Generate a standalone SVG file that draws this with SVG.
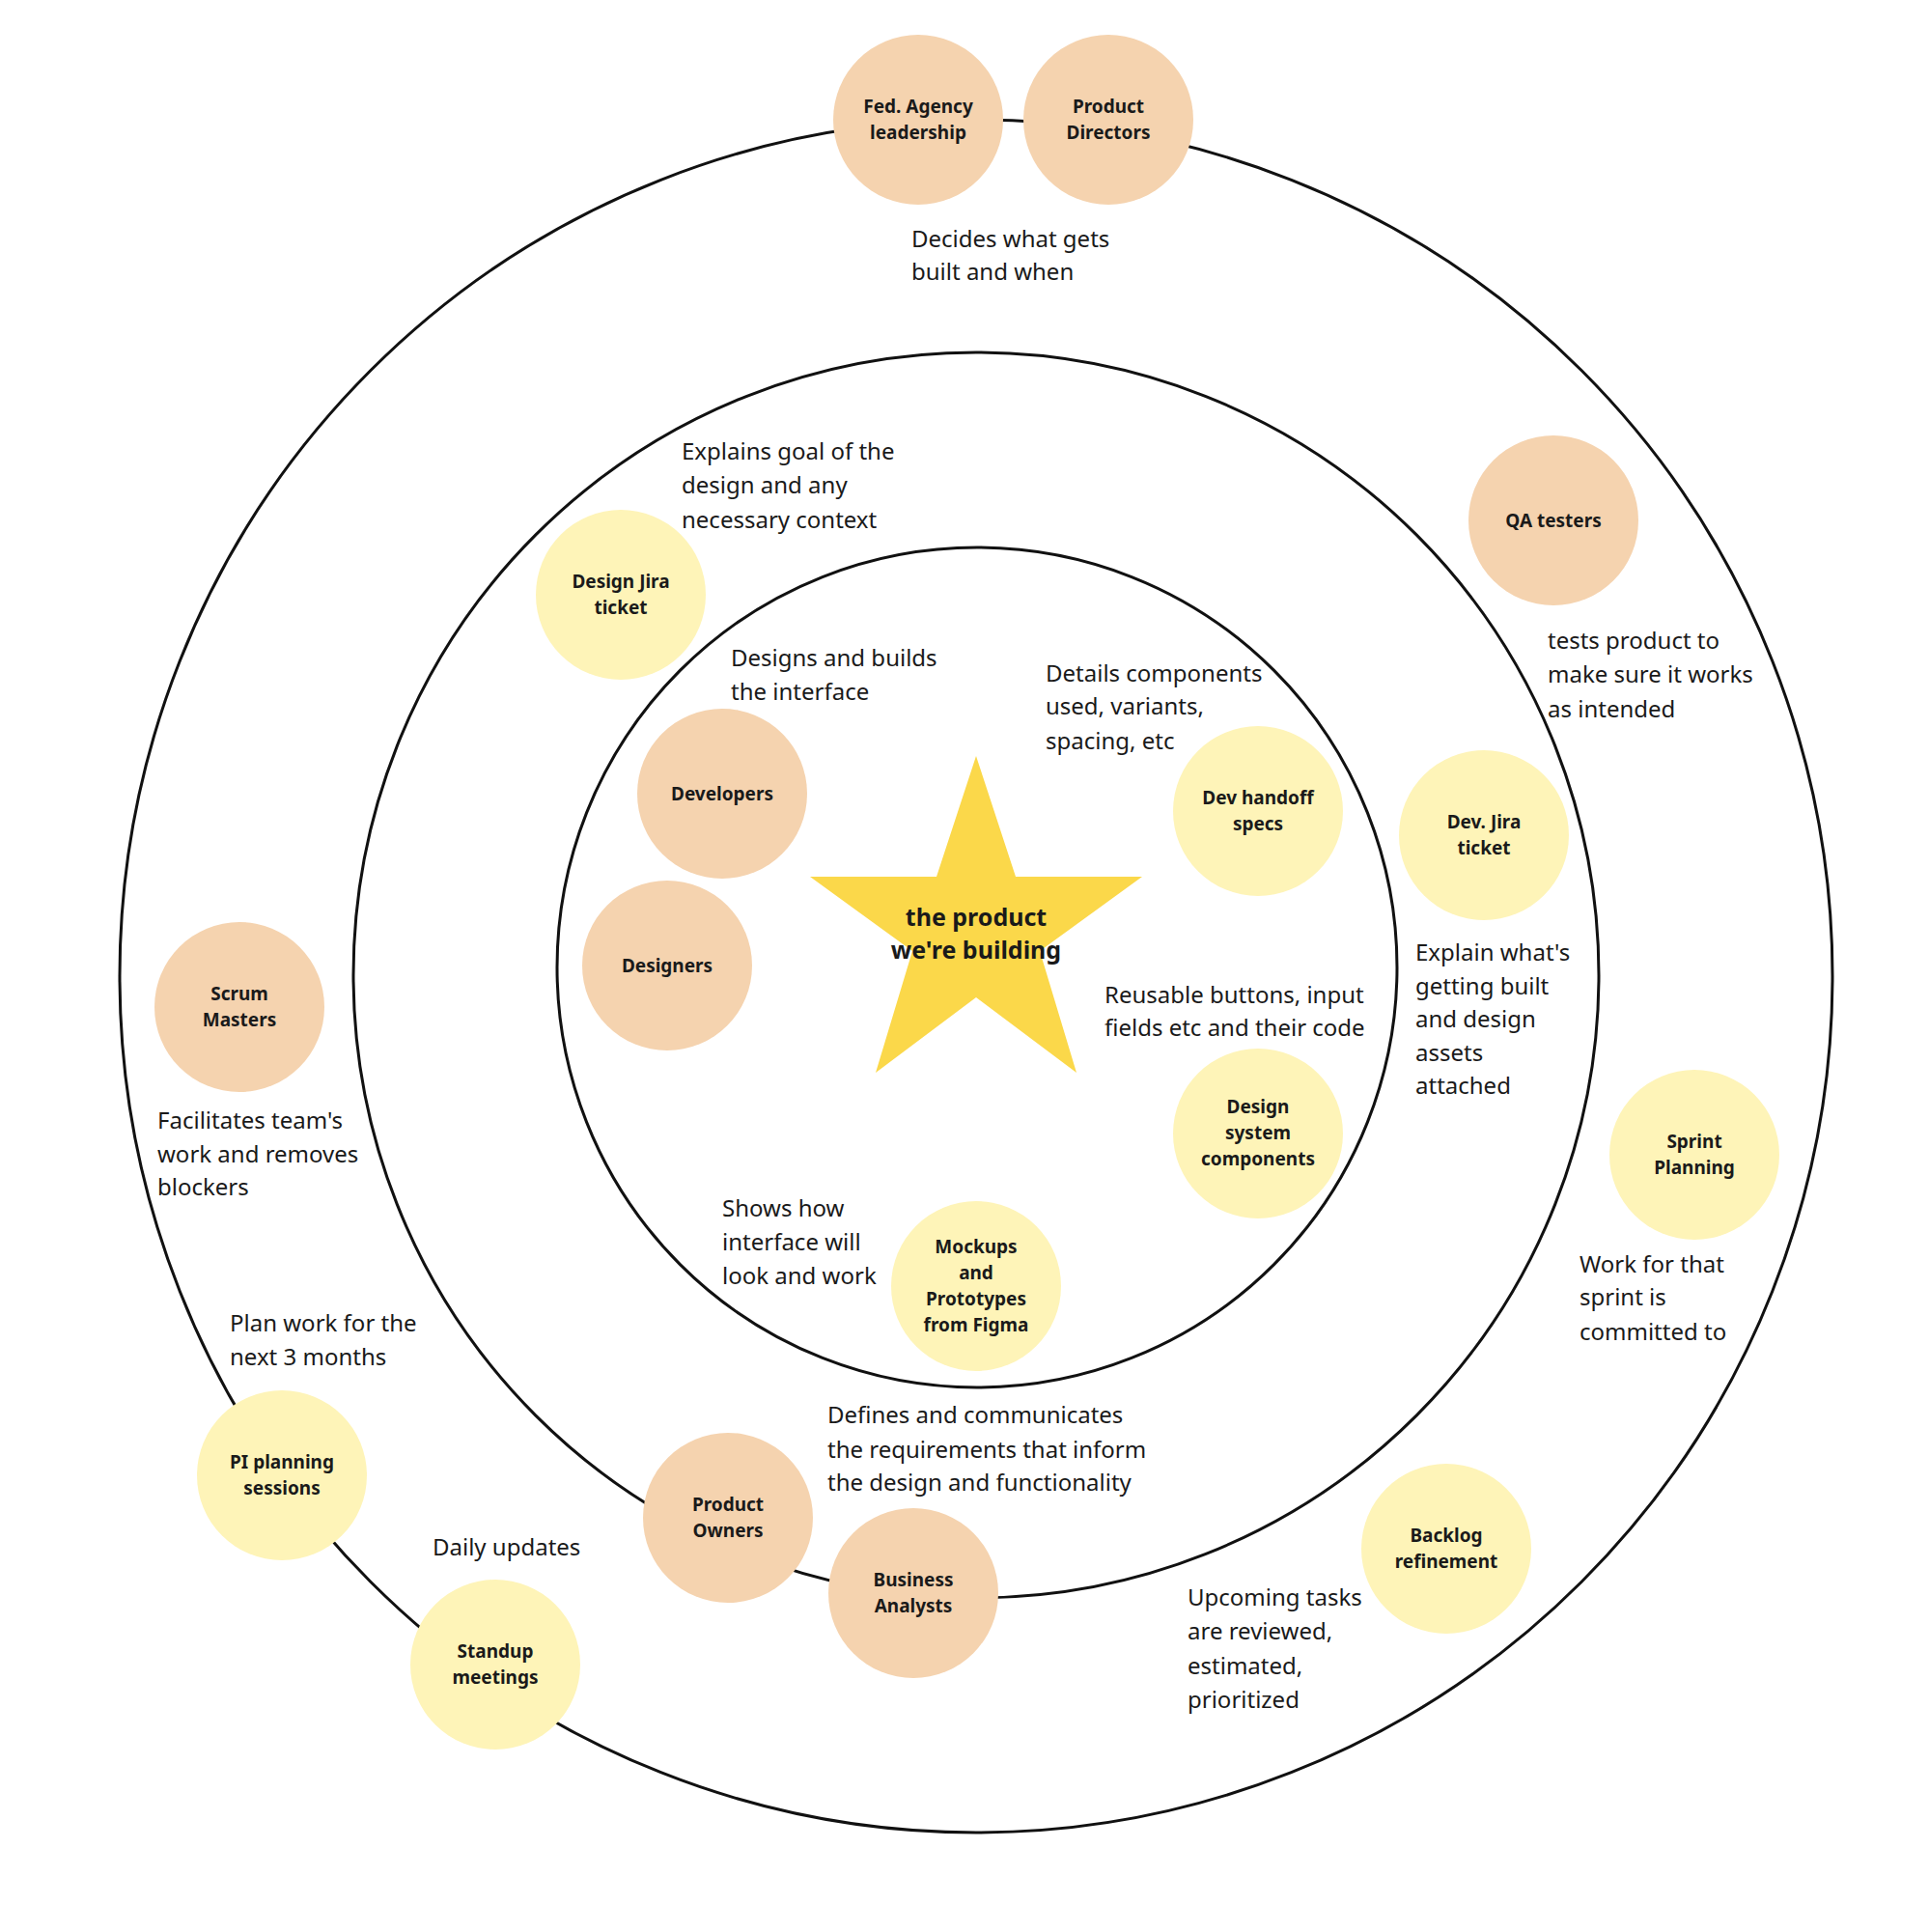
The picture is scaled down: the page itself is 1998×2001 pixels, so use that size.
<svg xmlns="http://www.w3.org/2000/svg" width="1998" height="2001" viewBox="0 0 1998 2001">
<style>
.ring{fill:none;stroke:#111;stroke-width:3}
.o{fill:#F5D3AF}.y{fill:#FEF4B8}
.n{font-family:"Noto Sans","Open Sans",sans-serif;font-weight:bold;font-size:19px;fill:#1a1a1a;text-anchor:middle}
.a{font-family:"Noto Sans","Open Sans",sans-serif;font-size:24px;fill:#1a1a1a}
</style>
<rect width="1998" height="2001" fill="#fff"/>
<g id="connectors">
<circle class="ring" cx="1011" cy="1011" r="887"/>
<circle class="ring" cx="1011" cy="1010" r="645"/>
<circle class="ring" cx="1012" cy="1002" r="435"/>
</g>
<g id="star">
<polygon points="1011,783 1052,908 1183,908 1077,985 1115,1111 1011,1033 907,1111 945,985 839,908 970,908" fill="#FBD84A"/>
<text class="n" style="font-size:25px" x="1011" y="959">the product</text>
<text class="n" style="font-size:25px" x="1011" y="993">we're building</text>
</g>
<g id="fed"><circle class="o" cx="951" cy="124" r="88"/><text class="n" x="951" y="117">Fed. Agency</text><text class="n" x="951" y="144">leadership</text></g>
<g id="pd"><circle class="o" cx="1148" cy="124" r="88"/><text class="n" x="1148" y="117">Product</text><text class="n" x="1148" y="144">Directors</text></g>
<g id="qa"><circle class="o" cx="1609" cy="539" r="88"/><text class="n" x="1609" y="546">QA testers</text></g>
<g id="djira"><circle class="y" cx="643" cy="616" r="88"/><text class="n" x="643" y="609">Design Jira</text><text class="n" x="643" y="636">ticket</text></g>
<g id="dev"><circle class="o" cx="748" cy="822" r="88"/><text class="n" x="748" y="829">Developers</text></g>
<g id="des"><circle class="o" cx="691" cy="1000" r="88"/><text class="n" x="691" y="1007">Designers</text></g>
<g id="handoff"><circle class="y" cx="1303" cy="840" r="88"/><text class="n" x="1303" y="833">Dev handoff</text><text class="n" x="1303" y="860">specs</text></g>
<g id="devjira"><circle class="y" cx="1537" cy="865" r="88"/><text class="n" x="1537" y="858">Dev. Jira</text><text class="n" x="1537" y="885">ticket</text></g>
<g id="scrum"><circle class="o" cx="248" cy="1043" r="88"/><text class="n" x="248" y="1036">Scrum</text><text class="n" x="248" y="1063">Masters</text></g>
<g id="dsys"><circle class="y" cx="1303" cy="1174" r="88"/><text class="n" x="1303" y="1153">Design</text><text class="n" x="1303" y="1180">system</text><text class="n" x="1303" y="1207">components</text></g>
<g id="sprint"><circle class="y" cx="1755" cy="1196" r="88"/><text class="n" x="1755" y="1189">Sprint</text><text class="n" x="1755" y="1216">Planning</text></g>
<g id="mock"><circle class="y" cx="1011" cy="1332" r="88"/><text class="n" x="1011" y="1298">Mockups</text><text class="n" x="1011" y="1325">and</text><text class="n" x="1011" y="1352">Prototypes</text><text class="n" x="1011" y="1379">from Figma</text></g>
<g id="pi"><circle class="y" cx="292" cy="1528" r="88"/><text class="n" x="292" y="1521">PI planning</text><text class="n" x="292" y="1548">sessions</text></g>
<g id="po"><circle class="o" cx="754" cy="1572" r="88"/><text class="n" x="754" y="1565">Product</text><text class="n" x="754" y="1592">Owners</text></g>
<g id="ba"><circle class="o" cx="946" cy="1650" r="88"/><text class="n" x="946" y="1643">Business</text><text class="n" x="946" y="1670">Analysts</text></g>
<g id="backlog"><circle class="y" cx="1498" cy="1604" r="88"/><text class="n" x="1498" y="1597">Backlog</text><text class="n" x="1498" y="1624">refinement</text></g>
<g id="standup"><circle class="y" cx="513" cy="1724" r="88"/><text class="n" x="513" y="1717">Standup</text><text class="n" x="513" y="1744">meetings</text></g>
<g id="annotations">
<text class="a" x="944" y="256">Decides what gets</text><text class="a" x="944" y="290">built and when</text>
<text class="a" x="706" y="476">Explains goal of the</text><text class="a" x="706" y="511">design and any</text><text class="a" x="706" y="547">necessary context</text>
<text class="a" x="757" y="690">Designs and builds</text><text class="a" x="757" y="725">the interface</text>
<text class="a" x="1083" y="706">Details components</text><text class="a" x="1083" y="740">used, variants,</text><text class="a" x="1083" y="776">spacing, etc</text>
<text class="a" x="1603" y="672">tests product to</text><text class="a" x="1603" y="707">make sure it works</text><text class="a" x="1603" y="743">as intended</text>
<text class="a" x="1466" y="995">Explain what's</text><text class="a" x="1466" y="1030">getting built</text><text class="a" x="1466" y="1064">and design</text><text class="a" x="1466" y="1099">assets</text><text class="a" x="1466" y="1133">attached</text>
<text class="a" x="1144" y="1039">Reusable buttons, input</text><text class="a" x="1144" y="1073">fields etc and their code</text>
<text class="a" x="163" y="1169">Facilitates team's</text><text class="a" x="163" y="1204">work and removes</text><text class="a" x="163" y="1238">blockers</text>
<text class="a" x="748" y="1260">Shows how</text><text class="a" x="748" y="1295">interface will</text><text class="a" x="748" y="1330">look and work</text>
<text class="a" x="1636" y="1318">Work for that</text><text class="a" x="1636" y="1352">sprint is</text><text class="a" x="1636" y="1388">committed to</text>
<text class="a" x="238" y="1379">Plan work for the</text><text class="a" x="238" y="1414">next 3 months</text>
<text class="a" x="857" y="1474">Defines and communicates</text><text class="a" x="857" y="1510">the requirements that inform</text><text class="a" x="857" y="1544">the design and functionality</text>
<text class="a" x="448" y="1611">Daily updates</text>
<text class="a" x="1230" y="1663">Upcoming tasks</text><text class="a" x="1230" y="1698">are reviewed,</text><text class="a" x="1230" y="1734">estimated,</text><text class="a" x="1230" y="1769">prioritized</text>
</g>
</svg>
